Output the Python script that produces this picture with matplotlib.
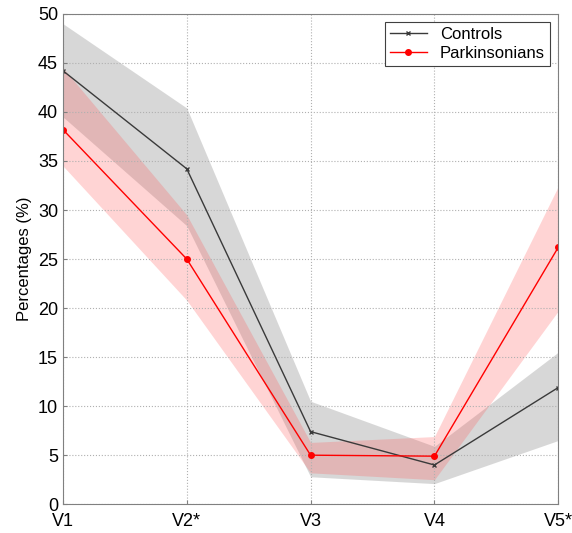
import matplotlib
matplotlib.use("Agg")
import matplotlib.pyplot as plt

plt.rcParams['font.family'] = ['Liberation Sans', 'DejaVu Sans']

labels = ["V1", "V2*", "V3", "V4", "V5*"]
controls = [44.2, 34.2, 7.4, 4.0, 11.9]
controls_hi = [49.0, 40.4, 10.5, 5.9, 15.5]
controls_lo = [39.5, 28.4, 2.8, 2.1, 6.5]
park = [38.2, 25.0, 5.0, 4.9, 26.2]
park_hi = [44.5, 29.5, 6.3, 6.9, 32.4]
park_lo = [34.5, 20.8, 3.2, 2.5, 19.7]

x = list(range(len(labels)))

fig = plt.figure(figsize=(5.72, 5.33), dpi=100)
ax = fig.add_axes([0.110, 0.054, 0.866, 0.920])

ax.fill_between(x, controls_lo, controls_hi, color='#a8a8a8', alpha=0.45, linewidth=0)
ax.fill_between(x, park_lo, park_hi, color='#ff5555', alpha=0.25, linewidth=0)
ax.plot(x, controls, color='#3a3a3a', lw=1, marker='x', ms=3, mew=1, label='Controls')
ax.plot(x, park, color='red', lw=1, marker='o', ms=4, label='Parkinsonians')

ax.set_xlim(0, 4)
ax.set_ylim(0, 50)
ax.set_xticks(x)
ax.set_xticklabels(labels)
ax.set_yticks(range(0, 51, 5))
ax.tick_params(labelsize=13, length=3, direction='in', color='#808080')
ax.tick_params(axis='x', pad=6)
ax.grid(True, linestyle=':', color='#b0b0b0', linewidth=0.8)
for s in ax.spines.values():
    s.set_color('#808080')
ax.set_ylabel('Percentages (%)', fontsize=12)

leg = ax.legend(loc='upper right', fontsize=12, fancybox=False, framealpha=1,
                edgecolor='#404040', handlelength=2.2, borderpad=0.3, labelspacing=0.2)
leg.get_frame().set_linewidth(0.8)

fig.savefig('out.png', dpi=100)
